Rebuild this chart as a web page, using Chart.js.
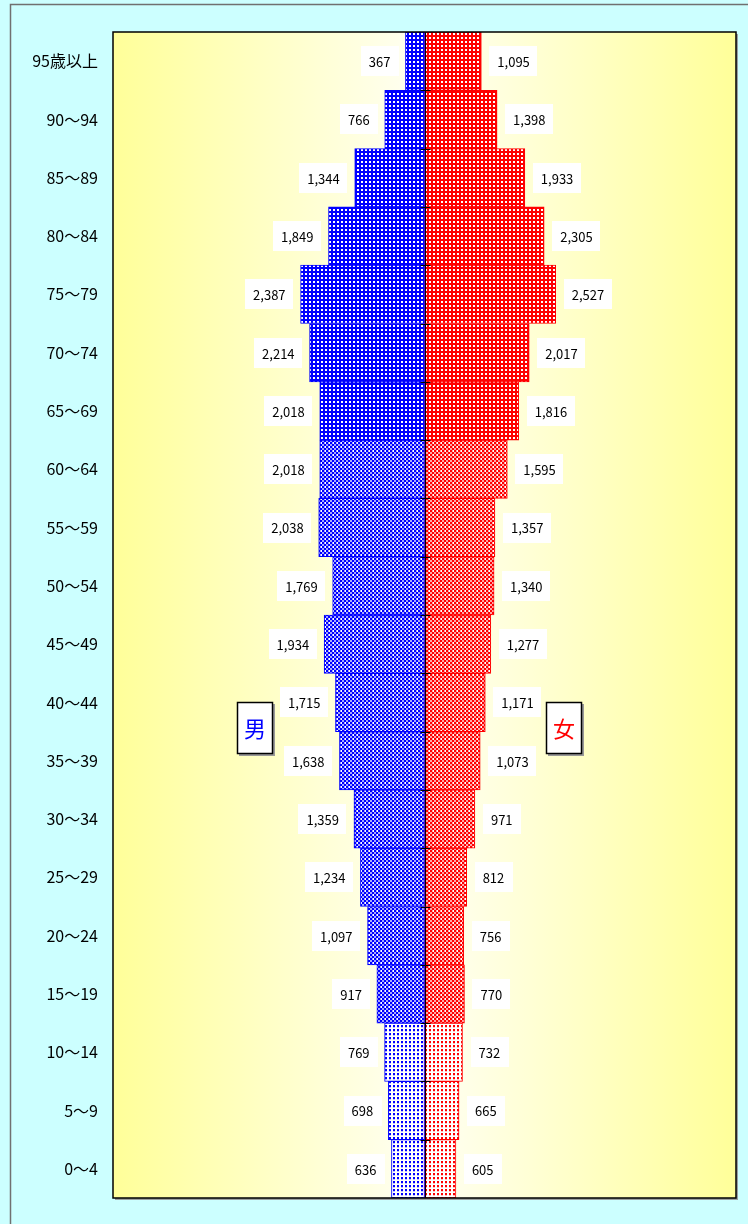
<!DOCTYPE html>
<html>
<head>
<meta charset="utf-8">
<script src="https://cdn.jsdelivr.net/npm/chart.js@4/dist/chart.umd.min.js"></script>
<style>
html,body{margin:0;padding:0;background:#ccffff;}
canvas{display:block;}
</style>
</head>
<body>
<canvas id="c" width="748" height="1224"></canvas>
<script>
const categories = ["95歳以上","90～94","85～89","80～84","75～79","70～74","65～69","60～64","55～59","50～54","45～49","40～44","35～39","30～34","25～29","20～24","15～19","10～14","5～9","0～4"];
const male = [367,766,1344,1849,2387,2214,2018,2018,2038,1769,1934,1715,1638,1359,1234,1097,917,769,698,636];
const female = [1095,1398,1933,2305,2527,2017,1816,1595,1357,1340,1277,1171,1073,971,812,756,770,732,665,605];
// age group of each row: 0 = 65+, 1 = 15-64, 2 = 0-14
const groups = [0,0,0,0,0,0,0,1,1,1,1,1,1,1,1,1,1,2,2,2];
const genderLabels = ["男","女"];

function makePattern(kind, color){
  const t = document.createElement('canvas');
  t.width = 4; t.height = 4;
  const g = t.getContext('2d');
  if(kind===0){
    g.fillStyle = color; g.fillRect(0,0,4,4);
    g.fillStyle = '#ffffff'; g.fillRect(1,1,2,2);
  } else if(kind===1){
    g.fillStyle = '#ffffff'; g.fillRect(0,0,4,4);
    g.fillStyle = color; g.fillRect(0,0,2,2); g.fillRect(2,2,2,2);
    g.globalAlpha = 0.35; g.fillRect(2,0,2,2); g.fillRect(0,2,1,2);
  } else {
    g.fillStyle = '#ffffff'; g.fillRect(0,0,4,4);
    g.fillStyle = color; g.fillRect(1,1,2,2);
    g.globalAlpha = 0.25; g.fillRect(1,3,2,1);
  }
  return document.getElementById('c').getContext('2d').createPattern(t,'repeat');
}
const bluePats = [0,1,2].map(k=>makePattern(k,'#0000ff'));
const redPats = [0,1,2].map(k=>makePattern(k,'#ff0000'));

const bgPlugin = {
  id:'bg',
  beforeDraw(chart){
    const ctx = chart.ctx, a = chart.chartArea;
    ctx.save();
    ctx.fillStyle = '#ccffff';
    ctx.fillRect(0,0,chart.width,chart.height);
    ctx.strokeStyle = '#707070'; ctx.lineWidth = 1.5;
    ctx.strokeRect(10.5,4.5,900,1400);
    ctx.fillStyle = '#9aa0a0';
    ctx.fillRect(a.left+2,a.top+2,a.right-a.left,a.bottom-a.top);
    const cx = chart.scales.x.getPixelForValue(0);
    const gr = ctx.createLinearGradient(a.left,0,a.right,0);
    const mid = (cx-a.left)/(a.right-a.left);
    gr.addColorStop(0,'#ffff99');
    gr.addColorStop(mid,'#fffff4');
    gr.addColorStop(1,'#ffff99');
    ctx.fillStyle = gr;
    ctx.fillRect(a.left,a.top,a.right-a.left,a.bottom-a.top);
    ctx.restore();
  },
  afterDatasetsDraw(chart){
    const ctx = chart.ctx, a = chart.chartArea;
    const cx = Math.round(chart.scales.x.getPixelForValue(0))+0.5;
    ctx.save();
    ctx.strokeStyle = '#000'; ctx.lineWidth = 1;
    ctx.beginPath(); ctx.moveTo(cx,a.top); ctx.lineTo(cx,a.bottom); ctx.stroke();
    const ys = chart.scales.y;
    for(let i=1;i<categories.length;i++){
      const y = Math.round((ys.getPixelForValue(i-1)+ys.getPixelForValue(i))/2)+0.5;
      ctx.beginPath(); ctx.moveTo(cx-5,y); ctx.lineTo(cx+5,y); ctx.stroke();
    }
    ctx.lineWidth = 1.5;
    ctx.strokeRect(a.left,a.top,a.right-a.left,a.bottom-a.top);
    ctx.font = '13px "Noto Sans CJK JP", "Noto Sans", sans-serif';
    ctx.textBaseline = 'middle'; ctx.textAlign = 'center';
    chart.data.datasets.forEach((ds,di)=>{
      const meta = chart.getDatasetMeta(di);
      meta.data.forEach((el,i)=>{
        const v = Math.abs(ds.data[i]);
        const txt = v.toLocaleString('en-US');
        const tw = ctx.measureText(txt).width;
        const bw = tw+16, bh = 30;
        let left;
        if(di===0){ left = el.x - 7 - bw; } else { left = el.x + 8; }
        ctx.fillStyle = '#ffffff';
        ctx.fillRect(Math.round(left), Math.round(el.y-bh/2), Math.round(bw), bh);
        ctx.fillStyle = '#000';
        ctx.fillText(txt, left+bw/2, el.y+1);
      });
    });
    ctx.restore();
  },
  afterDraw(chart){
    const ctx = chart.ctx;
    const ys = chart.scales.y;
    const yc = (ys.getPixelForValue(11)+ys.getPixelForValue(12))/2;
    const boxes = [{x:237,c:'#0000ff',t:genderLabels[0]},{x:546,c:'#ff0000',t:genderLabels[1]}];
    ctx.save();
    boxes.forEach(b=>{
      const w=36,h=52, top=Math.round(yc-h/2-4);
      ctx.fillStyle='#999'; ctx.fillRect(b.x+2,top+2,w,h);
      ctx.fillStyle='#fff'; ctx.fillRect(b.x,top,w,h);
      ctx.strokeStyle='#000'; ctx.lineWidth=1.5; ctx.strokeRect(b.x+0.5,top+0.5,w-1,h-1);
      ctx.fillStyle=b.c; ctx.font='22px "Noto Sans CJK JP", sans-serif';
      ctx.textAlign='center'; ctx.textBaseline='middle';
      ctx.fillText(b.t,b.x+w/2,top+h/2+1);
    });
    ctx.restore();
  }
};

new Chart(document.getElementById('c'),{
  type:'bar',
  data:{
    labels:categories,
    datasets:[
      {label:'男',data:male.map(v=>-v),backgroundColor:groups.map(g=>bluePats[g]),borderColor:'#0000ff',borderWidth:1,borderSkipped:false,barPercentage:1,categoryPercentage:1},
      {label:'女',data:female,backgroundColor:groups.map(g=>redPats[g]),borderColor:'#ff0000',borderWidth:1,borderSkipped:false,barPercentage:1,categoryPercentage:1}
    ]
  },
  options:{
    indexAxis:'y',
    responsive:false,
    animation:false,
    devicePixelRatio:1,
    layout:{padding:{left:10,right:12,top:32,bottom:26}},
    plugins:{legend:{display:false},tooltip:{enabled:false}},
    scales:{
      x:{display:false,min:-6000,max:6000,stacked:true},
      y:{stacked:true,grid:{display:false,drawTicks:false},border:{display:false},
         ticks:{color:'#000',padding:15,font:{size:16,family:'"Noto Sans CJK JP", "Noto Sans", sans-serif'}},
         afterFit(s){s.width=103;}}
    }
  },
  plugins:[bgPlugin]
});
</script>
</body>
</html>
